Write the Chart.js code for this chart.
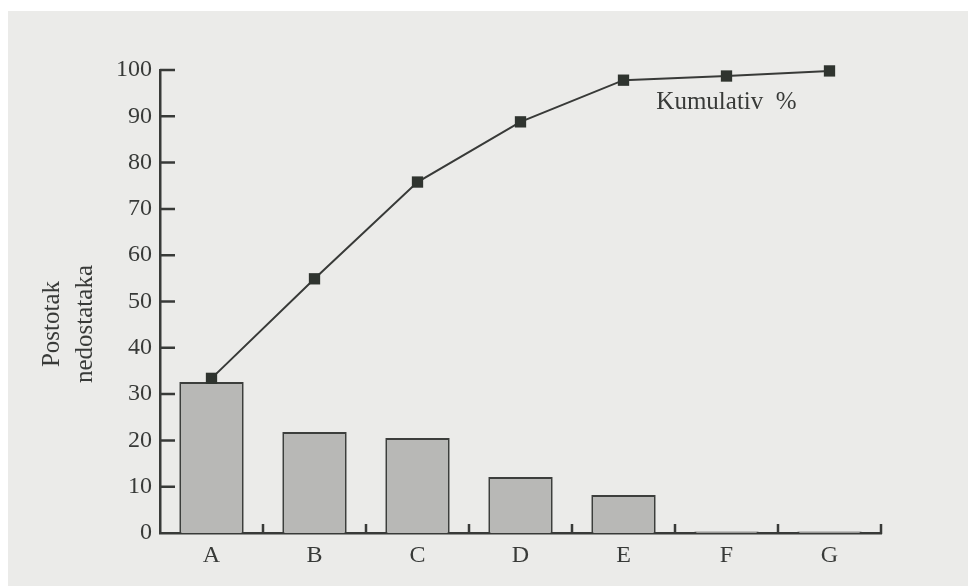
<!DOCTYPE html>
<html lang="hr">
<head>
    <meta charset="UTF-8">
    <title>Postotak nedostataka</title>
    <script src="https://cdn.jsdelivr.net/npm/chart.js"></script>
    <style>
        body {
            margin: 0;
            background: #ffffff;
        }
        #paper {
            position: absolute;
            left: 8px;
            top: 11px;
            width: 960px;
            height: 575px;
            background: #ebebe9;
        }
        #wrap {
            position: absolute;
            left: 0;
            top: 0;
            width: 968px;
            height: 586px;
        }
    </style>
</head>
<body>
    <div id="paper"></div>
    <div id="wrap"><canvas id="pareto"></canvas></div>
    <script>
        var categories = ['A', 'B', 'C', 'D', 'E', 'F', 'G'];
        var defects = [32.6, 21.8, 20.5, 12.1, 8.2, 0.3, 0.3];
        var cumulative = [33.4, 54.9, 75.8, 88.8, 97.8, 98.7, 99.8];
        var yTicks = [0, 10, 20, 30, 40, 50, 60, 70, 80, 90, 100];
        var yTitle = ['Postotak', 'nedostataka'];
        var lineLabel = 'Kumulativ  %';

        var ink = '#383a38';
        var serif = '"Liberation Serif", "DejaVu Serif", serif';

        // inward ticks, axis title and the line label
        var decorations = {
            id: 'decorations',
            afterDraw: function(chart) {
                var ctx = chart.ctx;
                var x = chart.scales.x;
                var y = chart.scales.y;
                var area = chart.chartArea;
                ctx.save();
                ctx.strokeStyle = ink;
                ctx.lineWidth = 2.5;
                ctx.beginPath();
                yTicks.forEach(function(v) {
                    if (v === 0) return;
                    var py = y.getPixelForValue(v);
                    ctx.moveTo(area.left, py);
                    ctx.lineTo(area.left + 15, py);
                });
                for (var i = 0; i < categories.length - 1; i++) {
                    var px = (x.getPixelForValue(i) + x.getPixelForValue(i + 1)) / 2;
                    ctx.moveTo(px, area.bottom);
                    ctx.lineTo(px, area.bottom - 9);
                }
                ctx.moveTo(area.right, area.bottom + 1);
                ctx.lineTo(area.right, area.bottom - 9);
                ctx.stroke();

                ctx.fillStyle = ink;
                ctx.font = '25px ' + serif;
                ctx.textAlign = 'center';
                ctx.textBaseline = 'middle';
                ctx.save();
                ctx.translate(52, 324);
                ctx.rotate(-Math.PI / 2);
                ctx.fillText(yTitle[0], 0, 0);
                ctx.restore();
                ctx.save();
                ctx.translate(85, 324);
                ctx.rotate(-Math.PI / 2);
                ctx.fillText(yTitle[1], 0, 0);
                ctx.restore();

                ctx.font = '25px ' + serif;
                ctx.fillText(lineLabel, x.getPixelForValue(5), y.getPixelForValue(93));
                ctx.restore();
            }
        };

        var ctx = document.getElementById('pareto').getContext('2d');
        var paretoChart = new Chart(ctx, {
            data: {
                labels: categories,
                datasets: [{
                    type: 'line',
                    label: lineLabel,
                    data: cumulative,
                    borderColor: ink,
                    borderWidth: 2,
                    pointStyle: 'rect',
                    pointRadius: 8,
                    pointBackgroundColor: '#2f342f',
                    pointBorderWidth: 0,
                    tension: 0,
                    clip: false,
                    order: 0
                }, {
                    type: 'bar',
                    label: 'Postotak nedostataka',
                    data: defects,
                    backgroundColor: '#b8b8b6',
                    borderColor: '#3c3e3c',
                    borderWidth: 2,
                    barPercentage: 0.625,
                    categoryPercentage: 1,
                    order: 1
                }]
            },
            options: {
                responsive: true,
                maintainAspectRatio: false,
                animation: false,
                layout: {
                    padding: { top: 70, right: 87, left: 0, bottom: 0 }
                },
                plugins: {
                    legend: { display: false },
                    tooltip: { enabled: false }
                },
                scales: {
                    x: {
                        grid: { display: false },
                        border: { display: true, color: ink, width: 2.5 },
                        ticks: {
                            color: ink,
                            padding: 0,
                            font: { family: serif, size: 24 }
                        },
                        afterFit: function(scale) { scale.height = 53; }
                    },
                    y: {
                        min: 0,
                        max: 100,
                        grid: { display: false },
                        border: { display: true, color: ink, width: 2.5 },
                        ticks: {
                            stepSize: 10,
                            color: ink,
                            padding: 0,
                            font: { family: serif, size: 24 }
                        },
                        afterFit: function(scale) { scale.width = 160; }
                    }
                }
            },
            plugins: [decorations]
        });
    </script>
</body>
</html>
